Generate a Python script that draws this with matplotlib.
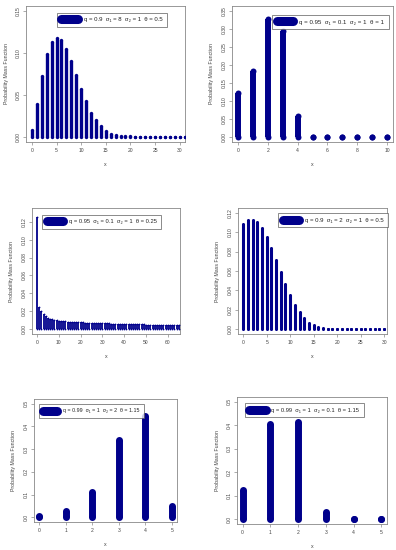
import matplotlib
matplotlib.use("Agg")
import matplotlib.pyplot as plt
import numpy as np

plt.rcParams['font.family'] = ['Liberation Sans', 'DejaVu Sans']

COLOR = '#00008B'
TXT = '#444444'
SPINE = '#888888'

# ---------------- data ----------------
x1 = list(range(0, 32))
y1 = [0.008, 0.039, 0.073, 0.099, 0.113, 0.118, 0.115, 0.105, 0.090, 0.074,
      0.057, 0.043, 0.029, 0.020, 0.013, 0.007, 0.004, 0.002, 0.0012, 0.0008,
      0.0006, 0.0005, 0.0004, 0.0004, 0.0003, 0.0003, 0.0003, 0.0003, 0.0003,
      0.0003, 0.0003, 0.0003]
lab1 = 'q = 0.9  σ₁ = 8  σ₂ = 1  θ = 0.5'

x2 = list(range(0, 11))
y2 = [0.121, 0.184, 0.327, 0.295, 0.058, 0.001, 0.0005, 0.0003, 0.0002, 0.0001, 0.0001]
lab2 = 'q = 0.95  σ₁ = 0.1  σ₂ = 1  θ = 1'

x3 = list(range(0, 66))
y3 = [0.1256, 0.025, 0.020, 0.0167, 0.0145, 0.0130, 0.0120, 0.0112, 0.0106, 0.0101,
      0.0097, 0.0094, 0.0091, 0.0089, 0.0087, 0.0085, 0.0083, 0.0082, 0.0080, 0.0079,
      0.0078, 0.0077, 0.0076, 0.0075, 0.0074, 0.0073, 0.0072, 0.0071, 0.0070, 0.0069,
      0.0068, 0.0067, 0.0066, 0.0066, 0.0065, 0.0064, 0.0063, 0.0062, 0.0062, 0.0061,
      0.0060, 0.0059, 0.0059, 0.0058, 0.0057, 0.0057, 0.0056, 0.0055, 0.0055, 0.0054,
      0.0053, 0.0053, 0.0052, 0.0052, 0.0051, 0.0050, 0.0050, 0.0049, 0.0049, 0.0048,
      0.0048, 0.0047, 0.0047, 0.0046, 0.0046, 0.0045]
lab3 = 'q = 0.95  σ₁ = 0.1  σ₂ = 1  θ = 0.25'

x4 = list(range(0, 32))
y4 = [0.108, 0.112, 0.1125, 0.110, 0.104, 0.095, 0.0835, 0.0716, 0.0586, 0.0467,
      0.035, 0.025, 0.0174, 0.0116, 0.0068, 0.0044, 0.0024, 0.0014, 0.0008, 0.0005,
      0.0004, 0.0003, 0.0003, 0.0003, 0.0003, 0.0003, 0.0003, 0.0003, 0.0003, 0.0003,
      0.0003, 0.0003]
lab4 = 'q = 0.9  σ₁ = 2  σ₂ = 1  θ = 0.5'

x5 = list(range(0, 6))
y5 = [0.007, 0.029, 0.110, 0.338, 0.444, 0.051]
lab5 = 'q = 0.99  σ₁ = 1  σ₂ = 2  θ = 1.15'

x6 = list(range(0, 6))
y6 = [0.125, 0.404, 0.415, 0.033, 0.003, 0.001]
lab6 = 'q = 0.99  σ₁ = 1  σ₂ = 0.1  θ = 1.15'

W, H = 396, 550
fig = plt.figure(figsize=(W / 100, H / 100), dpi=100)


def px_axes(left, right, top, bottom):
    return fig.add_axes([left / W, 1 - bottom / H, (right - left) / W, (bottom - top) / H])


def r_lim(lo, hi):
    d = (hi - lo) * 0.04
    return lo - d, hi + d


panels = [
    dict(box=(26, 185, 6, 142), x=x1, y=y1, lab=lab1, lw=2.4, fs=4.3, hl=2.8,
         xlim=(-1.2, 31.1), ylim=r_lim(0, 0.15), xt=range(0, 31, 5),
         yt=[0, 0.05, 0.10, 0.15], yfmt='%.2f', leg=(0.195, 0.95)),
    dict(box=(232, 393, 6, 142), x=x2, y=y2, lab=lab2, lw=4.3, fs=4.4, hl=2.8,
         xlim=r_lim(0, 10), ylim=r_lim(0, 0.35), xt=range(0, 11, 2),
         yt=[0, 0.05, 0.10, 0.15, 0.20, 0.25, 0.30, 0.35], yfmt='%.2f', leg=(0.25, 0.935)),
    dict(box=(32, 180, 208, 334), x=x3, y=y3, lab=lab3, lw=1.3, fs=4.15, hl=2.8,
         xlim=(-2.3, 65.6), ylim=r_lim(0, 0.13), xt=range(0, 61, 10),
         yt=[0, 0.02, 0.04, 0.06, 0.08, 0.10, 0.12], yfmt='%.2f', leg=(0.068, 0.945)),
    dict(box=(238, 387, 208, 334), x=x4, y=y4, lab=lab4, lw=2.2, fs=4.3, hl=2.8,
         xlim=(-1.1, 30.6), ylim=r_lim(0, 0.12), xt=range(0, 31, 5),
         yt=[0, 0.02, 0.04, 0.06, 0.08, 0.10, 0.12], yfmt='%.2f', leg=(0.27, 0.96)),
    dict(box=(34, 177, 399, 522), x=x5, y=y5, lab=lab5, lw=5.0, fs=3.8, hl=2.3,
         xlim=r_lim(0, 5), ylim=r_lim(0, 0.5), xt=range(0, 6),
         yt=[0, 0.1, 0.2, 0.3, 0.4, 0.5], yfmt='%.1f', leg=(0.035, 0.96)),
    dict(box=(237, 387, 397, 524), x=x6, y=y6, lab=lab6, lw=5.0, fs=4.15, hl=2.8,
         xlim=r_lim(0, 5), ylim=r_lim(0, 0.5), xt=range(0, 6),
         yt=[0, 0.1, 0.2, 0.3, 0.4, 0.5], yfmt='%.1f', leg=(0.05, 0.95)),
]

for p in panels:
    ax = px_axes(*p['box'])
    xs = np.asarray(p['x'], dtype=float)
    ys = np.asarray(p['y'], dtype=float)
    ax.vlines(xs, 0, ys, colors=COLOR, linewidth=p['lw'], capstyle='butt')
    # round line ends (R lend = "round"), drawn at both ends of each spike
    ms = p['lw'] ** 2
    ax.scatter(xs, ys, s=ms, color=COLOR, linewidths=0, zorder=3)
    ax.scatter(xs, np.zeros_like(xs), s=ms, color=COLOR, linewidths=0, zorder=3)
    ax.set_xlim(*p['xlim'])
    ax.set_ylim(*p['ylim'])
    ax.set_xticks(list(p['xt']))
    ax.set_yticks(p['yt'])
    ax.set_yticklabels([p['yfmt'] % v for v in p['yt']], rotation=90, va='center')
    ax.tick_params(axis='both', labelsize=3.6, colors=SPINE, labelcolor=TXT,
                   length=2, width=0.5, pad=2)
    for s in ax.spines.values():
        s.set_color(SPINE)
        s.set_linewidth(0.6)
    ax.set_xlabel('x', fontsize=3.8, color=TXT, labelpad=7)
    ax.set_ylabel('Probability Mass Function', fontsize=3.8, color=TXT, labelpad=5)
    handle = plt.Line2D([0], [0], color=COLOR, linewidth=6.5, solid_capstyle='round')
    fs = p['fs']
    leg = ax.legend([handle], [p['lab']], loc='upper left', bbox_to_anchor=p['leg'],
                    fontsize=fs, frameon=True, fancybox=False,
                    handlelength=p['hl'] * 4.3 / fs, handletextpad=0.95 * 4.3 / fs,
                    borderpad=0.75 * 4.3 / fs, borderaxespad=0)
    leg.get_frame().set_edgecolor('#555555')
    leg.get_frame().set_linewidth(0.6)
    leg.set_zorder(5)
    for t in leg.get_texts():
        t.set_color('#222222')

fig.savefig('out.png', dpi=100)
